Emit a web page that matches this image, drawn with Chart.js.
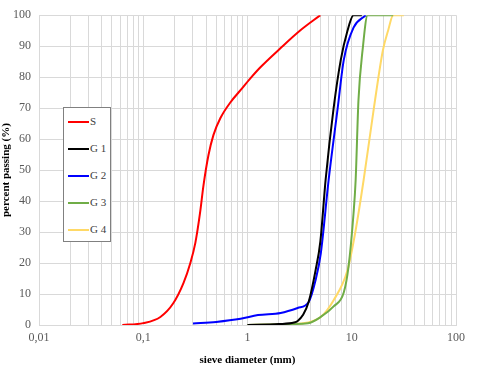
<!DOCTYPE html>
<html>
<head>
<meta charset="utf-8">
<script src="https://cdn.jsdelivr.net/npm/chart.js@4/dist/chart.umd.min.js"></script>
<style>
  html, body { margin: 0; padding: 0; background: #fff; }
  #wrap { position: relative; width: 480px; height: 367px; }
  #legend {
    position: absolute; left: 63px; top: 107px; width: 46px; height: 133px;
    border: 1px solid #808080; background: #fff;
    font-family: "Liberation Serif", serif; font-size: 11px; color: #404040;
  }
  #legend div { position: absolute; left: 4px; height: 12px; line-height: 12px; white-space: nowrap; }
  #legend span { display: inline-block; width: 21px; height: 2px; vertical-align: middle; margin-right: 1px; }
</style>
</head>
<body>
<div id="wrap">
  <canvas id="myChart" width="480" height="367"></canvas>
  <div id="legend"></div>
</div>
<script>
// sieve sizes (mm) and percent passing
const sSize  = [0.063, 0.1, 0.146, 0.194, 0.243, 0.283, 0.316, 0.35, 0.378, 0.422, 0.471, 0.55, 0.687, 0.857, 1.07, 1.33, 2.08, 3.24, 5];
const sPass  = [0, 0.6, 2.6, 7, 13.5, 20, 26.5, 36, 45, 54.8, 61.3, 66.8, 71.9, 75.8, 79.7, 83.2, 89.4, 95.2, 100];

const g1Size = [1, 2, 2.8, 3.03, 3.4, 3.86, 4.5, 5.0, 5.62, 6.7, 7.84, 9.1, 10.4, 12.5];
const g1Pass = [0, 0.3, 0.8, 1.3, 3.2, 7.4, 17.7, 27, 47, 70, 85.5, 95, 100, 100];

const g2Size = [0.3, 0.5, 0.86, 1.26, 2.08, 3.03, 3.86, 4.5, 5.04, 6.01, 7.33, 8.38, 10.4, 13.6];
const g2Pass = [0.5, 1, 2, 3.2, 3.9, 5.5, 7.4, 14.5, 23, 47, 70, 85.5, 96, 100];

const g3Size = [1, 2, 3.8, 5.04, 6.7, 8.38, 9.3, 10.4, 10.9, 11.6, 12.7, 14.2, 25];
const g3Pass = [0, 0.2, 0.6, 2.6, 6, 10.5, 18.7, 36, 46.8, 72.6, 88.7, 100, 100];

const g4Size = [1, 2, 3.24, 5.04, 6.7, 9.1, 10.9, 13, 16.3, 19.9, 22.3, 25, 31.6];
const g4Pass = [0, 0.2, 0.5, 2.6, 8, 17.7, 30.6, 46.8, 70, 88.7, 95, 100, 100];

const seriesNames = ['S', 'G 1', 'G 2', 'G 3', 'G 4'];
const seriesColors = ['#ff0000', '#000000', '#0000ff', '#70ad47', '#ffd966'];

const xDecades = [0.01, 0.1, 1, 10, 100];
const xTickLabels = ['0,01', '0,1', '1', '10', '100'];

window.addEventListener('load', setup);

function toPoints(sizes, pass) {
  return sizes.map((s, i) => ({ x: s, y: pass[i] }));
}

function setup() {
  const ctx = document.getElementById('myChart').getContext('2d');
  const allSeries = [
    toPoints(sSize, sPass),
    toPoints(g1Size, g1Pass),
    toPoints(g2Size, g2Pass),
    toPoints(g3Size, g3Pass),
    toPoints(g4Size, g4Pass)
  ];
  const datasets = allSeries.map((pts, i) => ({
    label: seriesNames[i],
    data: pts,
    borderColor: seriesColors[i],
    backgroundColor: seriesColors[i],
    borderWidth: 2,
    pointRadius: 0,
    fill: false,
    cubicInterpolationMode: 'monotone'
  }));

  const serif = '"Liberation Serif", "Times New Roman", serif';

  new Chart(ctx, {
    type: 'line',
    data: { datasets },
    options: {
      responsive: false,
      animation: false,
      layout: { padding: { left: 0, right: 24, top: 15, bottom: 0 } },
      plugins: { legend: { display: false }, tooltip: { enabled: false } },
      scales: {
        x: {
          type: 'logarithmic',
          min: 0.01,
          max: 100,
          afterBuildTicks: axis => {
            const t = [];
            for (let d = 0; d < xDecades.length - 1; d++) {
              for (let k = 1; k < 10; k++) t.push({ value: xDecades[d] * k });
            }
            t.push({ value: xDecades[xDecades.length - 1] });
            axis.ticks = t;
          },
          afterFit: axis => { axis.height = 42; },
          grid: { color: '#d9d9d9', lineWidth: 1, drawTicks: false },
          border: { color: '#d9d9d9' },
          ticks: {
            autoSkip: false,
            maxRotation: 0,
            padding: 6,
            color: '#595959',
            font: { family: serif, size: 12 },
            callback: value => {
              const i = xDecades.findIndex(d => Math.abs(d - value) < d * 1e-6);
              return i >= 0 ? xTickLabels[i] : '';
            }
          },
          title: {
            display: true,
            text: 'sieve diameter (mm)',
            color: '#000',
            font: { family: serif, size: 11, weight: 'bold' },
            padding: { top: 2, bottom: 0 }
          }
        },
        y: {
          min: 0,
          max: 100,
          afterFit: axis => { axis.width = 39; },
          grid: { color: '#d9d9d9', lineWidth: 1, drawTicks: false },
          border: { color: '#d9d9d9' },
          ticks: {
            stepSize: 10,
            padding: 8,
            color: '#595959',
            font: { family: serif, size: 12 }
          },
          title: {
            display: true,
            text: 'percent passing (%)',
            color: '#000',
            font: { family: serif, size: 11, weight: 'bold' },
            padding: { top: 0, bottom: 0 }
          }
        }
      }
    }
  });

  const legend = document.getElementById('legend');
  seriesNames.forEach((name, i) => {
    const item = document.createElement('div');
    item.style.top = (7 + i * 27) + 'px';
    item.innerHTML = '<span style="background:' + seriesColors[i] + '"></span>' + name;
    legend.appendChild(item);
  });
}
</script>
</body>
</html>
